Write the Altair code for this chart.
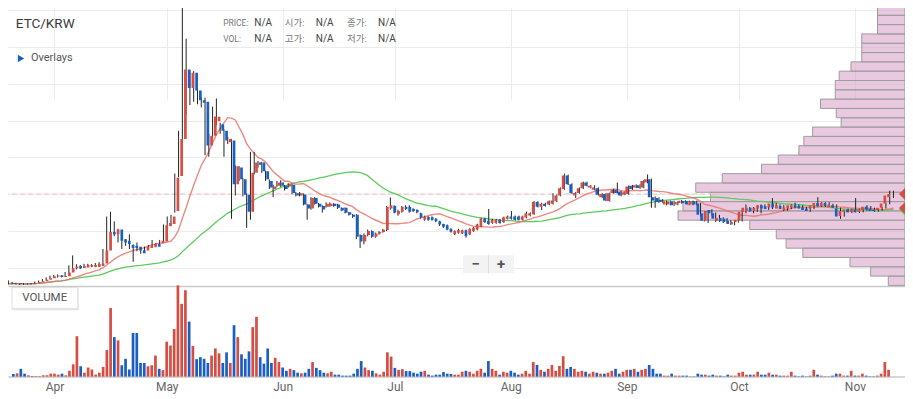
import altair as alt
import pandas as pd

# ---------------- data (prices in thousand KRW) ----------------
dates = pd.date_range("2021-03-21", periods=235, freq="D").strftime("%Y-%m-%d").tolist()

opens = [
    14.8, 14.3, 14.6, 14.2, 14.0, 14.3, 14.1, 14.4, 15.3, 16.0,
    17.0, 18.0, 19.2, 20.0, 18.9, 19.3, 21.9, 24.8, 26.3, 24.9,
    25.5, 25.8, 25.9, 25.9, 26.3, 28.1, 36.8, 49.3, 47.8, 51.1,
    44.5, 43.4, 40.5, 40.0, 39.3, 37.0, 36.8, 38.6, 39.4, 41.2,
    41.8, 43.0, 53.3, 54.8, 63.6, 87.3, 112.5, 159.6, 147.0, 157.4,
    145.4, 138.8, 137.7, 108.1, 114.7, 124.5, 122.4, 118.0, 110.3, 111.4,
    81.8, 93.2, 85.1, 74.6, 63.2, 89.5, 96.5, 96.5, 90.6, 84.0,
    78.5, 80.7, 82.9, 80.7, 80.3, 81.4, 75.7, 74.1, 74.8, 68.0,
    65.4, 72.4, 68.6, 67.1, 66.5, 67.1, 68.6, 68.0, 65.8, 65.8,
    62.7, 61.0, 61.0, 47.4, 43.0, 47.4, 50.0, 46.1, 48.3, 49.4,
    50.7, 65.4, 67.1, 61.4, 63.2, 66.5, 66.5, 64.9, 64.3, 62.1,
    57.7, 59.4, 59.4, 58.3, 56.6, 54.8, 54.0, 51.5, 47.8, 48.8,
    48.3, 50.5, 47.8, 50.0, 51.1, 53.3, 58.3, 57.0, 55.5, 55.5,
    57.7, 56.1, 58.3, 59.9, 59.9, 59.9, 57.7, 59.2, 60.5, 61.4,
    69.7, 66.5, 68.6, 68.0, 68.6, 70.2, 74.1, 78.5, 87.7, 81.8,
    74.1, 75.9, 79.0, 82.9, 79.6, 78.1, 79.0, 73.0, 75.2, 70.4,
    75.9, 78.1, 76.8, 74.8, 75.2, 80.7, 79.6, 81.1, 79.6, 82.9,
    85.1, 73.0, 72.4, 71.3, 68.0, 68.0, 70.2, 68.0, 69.1, 70.4,
    70.2, 68.0, 70.2, 68.7, 62.1, 57.0, 64.3, 62.1, 57.0, 58.8,
    58.3, 57.0, 54.4, 56.2, 57.0, 63.2, 63.6, 65.8, 63.6, 65.4,
    67.6, 66.9, 66.0, 68.7, 65.4, 67.1, 64.3, 65.4, 66.0, 67.6,
    67.1, 66.0, 65.4, 65.4, 67.1, 69.1, 66.9, 69.1, 66.2, 67.6,
    65.4, 60.3, 63.2, 64.7, 63.2, 64.7, 63.2, 64.3, 66.5, 65.4,
    64.7, 64.3, 65.8, 68.7, 73.0]

highs = [
    16.5, 15.4, 15.0, 14.6, 14.8, 14.7, 14.9, 15.8, 16.5, 17.5,
    18.6, 19.8, 20.3, 20.6, 19.8, 22.3, 26.8, 33.5, 27.5, 27.0,
    27.8, 27.8, 27.6, 28.3, 28.9, 37.9, 59.9, 63.1, 56.6, 51.5,
    45.0, 44.5, 47.8, 41.0, 42.3, 37.5, 39.5, 40.6, 43.9, 42.0,
    44.0, 54.5, 59.9, 61.0, 89.0, 118.0, 205.0, 180.5, 159.0, 158.5,
    147.0, 140.5, 140.5, 116.0, 134.4, 139.9, 123.5, 119.0, 114.0, 112.5,
    94.5, 94.0, 86.0, 75.5, 103.7, 103.7, 97.5, 97.0, 91.0, 85.0,
    81.5, 84.0, 84.5, 81.2, 82.5, 82.0, 76.5, 76.5, 75.5, 68.5,
    73.0, 73.0, 69.0, 67.5, 69.5, 69.5, 69.0, 68.5, 66.0, 66.0,
    63.0, 61.5, 61.5, 47.8, 48.5, 51.0, 50.5, 49.0, 50.0, 51.5,
    67.0, 72.8, 67.5, 64.5, 67.0, 67.5, 67.5, 65.5, 64.8, 62.5,
    60.5, 60.0, 60.0, 58.8, 57.0, 55.0, 54.5, 52.0, 50.5, 51.5,
    51.0, 51.0, 52.0, 52.8, 55.0, 59.0, 59.0, 65.0, 58.3, 58.3,
    58.3, 59.8, 60.5, 63.6, 60.5, 60.5, 60.5, 63.2, 62.7, 70.3,
    70.3, 69.2, 69.2, 70.8, 75.7, 74.8, 79.6, 89.0, 88.3, 82.4,
    76.5, 79.6, 83.5, 83.5, 81.2, 81.1, 79.6, 75.7, 75.7, 76.2,
    78.7, 82.9, 77.3, 76.8, 80.9, 81.3, 81.7, 81.7, 84.6, 88.4,
    85.6, 73.5, 72.9, 71.8, 70.7, 70.7, 70.7, 70.2, 71.1, 70.9,
    70.7, 70.7, 70.7, 69.2, 62.6, 64.1, 64.8, 62.6, 61.0, 59.3,
    58.8, 57.5, 56.7, 58.2, 63.7, 68.0, 66.3, 66.3, 67.6, 68.1,
    68.1, 67.4, 72.4, 69.2, 68.1, 67.6, 66.5, 68.1, 69.3, 68.1,
    67.6, 66.5, 65.9, 68.1, 73.0, 69.6, 69.6, 69.6, 68.5, 68.1,
    65.9, 64.1, 65.2, 65.2, 72.4, 65.2, 65.2, 67.6, 67.0, 65.9,
    65.2, 66.3, 69.2, 77.4, 77.4]

lows = [
    13.8, 13.9, 13.7, 13.5, 13.6, 13.6, 13.8, 14.0, 15.0, 15.6,
    16.6, 17.5, 18.8, 18.5, 18.6, 19.0, 20.8, 23.5, 24.0, 24.2,
    25.0, 25.3, 25.5, 25.5, 25.8, 27.5, 35.7, 43.4, 46.5, 42.3,
    37.9, 40.0, 37.9, 29.2, 36.3, 34.6, 35.7, 38.0, 38.8, 39.0,
    41.0, 42.5, 52.4, 54.0, 62.5, 86.5, 101.5, 128.9, 135.5, 137.7,
    136.0, 134.0, 101.5, 100.4, 113.0, 122.0, 116.0, 100.4, 109.0, 58.3,
    74.1, 84.0, 73.5, 52.2, 57.7, 88.5, 93.0, 89.5, 84.0, 78.5,
    73.0, 80.0, 80.0, 77.5, 79.5, 75.0, 73.5, 73.5, 67.5, 57.7,
    64.5, 68.0, 66.0, 62.5, 66.0, 66.5, 66.5, 65.0, 63.5, 62.0,
    60.5, 59.0, 44.5, 38.6, 41.0, 46.5, 45.5, 45.5, 47.5, 49.0,
    50.0, 64.5, 62.0, 60.5, 62.5, 64.5, 62.5, 63.0, 62.0, 58.5,
    57.0, 57.0, 57.0, 56.0, 53.5, 52.2, 50.5, 49.0, 47.3, 48.3,
    48.0, 45.6, 47.3, 49.5, 50.5, 52.8, 55.5, 54.3, 55.0, 55.0,
    55.0, 55.5, 58.0, 57.8, 57.2, 57.2, 57.2, 58.7, 60.0, 61.0,
    66.0, 64.3, 66.6, 67.5, 68.0, 69.7, 73.6, 78.0, 81.2, 75.2,
    72.4, 75.4, 78.5, 80.2, 79.0, 77.6, 74.1, 72.5, 70.3, 70.0,
    75.4, 75.4, 73.6, 74.3, 74.7, 78.0, 79.1, 78.7, 79.1, 82.4,
    65.8, 65.8, 69.2, 69.2, 67.5, 67.5, 67.1, 67.5, 68.6, 68.6,
    67.5, 67.5, 67.5, 59.9, 56.5, 55.5, 60.5, 56.2, 56.2, 55.5,
    55.7, 54.3, 53.9, 55.7, 56.5, 62.1, 63.1, 62.1, 63.1, 62.1,
    64.9, 64.4, 64.9, 65.5, 64.9, 63.6, 63.8, 64.9, 65.5, 65.5,
    64.9, 63.8, 63.1, 64.9, 66.6, 66.4, 66.4, 66.6, 65.7, 65.5,
    58.3, 59.8, 62.7, 62.2, 62.7, 62.2, 62.7, 63.8, 64.2, 63.1,
    63.1, 63.8, 65.3, 68.2, 72.5]

closes = [
    14.3, 14.6, 14.2, 14.0, 14.3, 14.1, 14.4, 15.3, 16.0, 17.0,
    18.0, 19.3, 19.8, 18.9, 19.5, 21.9, 24.8, 26.0, 24.8, 26.3,
    27.0, 27.0, 27.0, 27.6, 28.1, 36.8, 49.3, 47.8, 51.1, 43.4,
    42.3, 41.2, 38.6, 38.6, 36.8, 35.0, 39.0, 40.1, 41.2, 39.4,
    43.4, 54.0, 55.5, 59.9, 86.2, 112.5, 159.6, 147.0, 157.4, 145.4,
    138.8, 137.0, 108.1, 114.7, 127.8, 127.5, 118.0, 111.4, 112.5, 81.8,
    93.9, 85.1, 74.6, 63.2, 89.5, 96.5, 95.0, 90.6, 85.1, 79.6,
    80.3, 82.9, 80.7, 78.5, 81.8, 75.9, 74.1, 75.7, 68.0, 65.4,
    72.4, 68.6, 66.5, 64.7, 68.6, 68.6, 67.1, 65.8, 64.0, 62.5,
    61.0, 59.7, 46.1, 43.0, 47.4, 50.0, 46.1, 48.3, 49.4, 50.9,
    66.5, 67.6, 62.5, 63.6, 66.5, 64.9, 63.2, 63.6, 62.7, 59.2,
    59.9, 57.7, 57.7, 56.6, 54.4, 52.9, 51.1, 49.6, 50.0, 50.8,
    50.5, 46.7, 51.5, 52.2, 54.4, 58.3, 56.1, 54.8, 57.7, 57.7,
    55.5, 59.2, 59.9, 58.3, 57.7, 57.7, 59.9, 62.1, 62.1, 69.7,
    66.5, 68.6, 67.1, 70.2, 70.8, 74.1, 79.0, 87.7, 81.8, 75.7,
    75.9, 79.0, 82.9, 80.7, 80.7, 79.6, 74.6, 75.2, 70.8, 75.7,
    78.1, 75.9, 74.1, 76.3, 80.3, 78.5, 81.1, 79.2, 84.0, 85.1,
    73.0, 70.8, 69.7, 69.7, 70.2, 70.2, 67.6, 69.7, 70.6, 69.1,
    68.0, 70.2, 68.0, 61.0, 57.0, 63.6, 62.1, 58.3, 58.8, 56.6,
    56.2, 54.8, 56.2, 57.7, 63.2, 65.8, 65.8, 63.6, 65.8, 67.6,
    65.4, 64.9, 68.7, 66.0, 67.6, 64.9, 66.0, 67.6, 67.6, 66.0,
    65.4, 64.3, 63.6, 67.6, 69.1, 66.9, 69.1, 67.1, 68.0, 66.0,
    59.9, 63.6, 64.7, 62.7, 64.7, 62.7, 64.7, 66.5, 64.7, 63.6,
    63.6, 65.8, 68.7, 74.1, 75.2]

volumes = [
    8, 10, 24, 9, 4, 2, 2, 2, 4, 4,
    9, 9, 6, 9, 4, 18, 38, 125, 32, 12,
    28, 22, 6, 12, 30, 82, 212, 122, 112, 35,
    55, 22, 135, 135, 42, 42, 32, 35, 65, 24,
    20, 108, 96, 147, 282, 225, 267, 170, 95, 54,
    60, 55, 42, 65, 87, 72, 42, 75, 42, 159,
    122, 69, 55, 78, 153, 185, 60, 40, 87, 42,
    58, 45, 28, 18, 24, 20, 12, 10, 12, 24,
    45, 27, 20, 12, 10, 15, 6, 6, 3, 3,
    3, 9, 24, 48, 28, 20, 18, 10, 6, 15,
    75, 62, 27, 21, 23, 17, 17, 12, 9, 15,
    18, 6, 3, 6, 6, 14, 9, 8, 6, 6,
    15, 18, 15, 9, 18, 24, 12, 48, 24, 18,
    6, 15, 12, 18, 12, 6, 9, 18, 9, 45,
    36, 21, 15, 24, 36, 18, 33, 63, 24, 30,
    24, 15, 18, 15, 9, 15, 12, 9, 9, 12,
    18, 24, 9, 15, 21, 21, 24, 15, 21, 24,
    36, 24, 9, 9, 3, 3, 9, 3, 3, 3,
    3, 1, 1, 9, 6, 6, 3, 6, 3, 3,
    1, 6, 3, 3, 12, 15, 6, 6, 6, 15,
    6, 6, 12, 6, 6, 3, 3, 3, 15, 3,
    1, 3, 1, 3, 21, 6, 3, 1, 1, 3,
    9, 9, 3, 3, 18, 3, 3, 9, 3, 1,
    1, 3, 9, 45, 21]

# volume profile (bottom bin first), 30 equal price bins
profile_volume = [17, 35, 56, 104, 121, 131, 158, 231, 226, 198,
                  213, 186, 146, 129, 108, 103, 94, 65, 70, 86,
                  71, 71, 67, 55, 44, 44, 44, 28, 28, 28]
profile_start = 13.16
profile_step = 6.317

grid_values = [12.5, 25, 50, 75, 100, 125, 150, 175, 200]
month_starts = [4, 5, 6, 7, 8, 9, 10, 11]

# ---------------- frames ----------------
df = pd.DataFrame({"i": list(range(len(dates))), "date": dates, "open": opens,
                   "high": highs, "low": lows, "close": closes, "volume": volumes})
last_i = len(dates) - 1

prof = pd.DataFrame({"vol": profile_volume})
prof["lo"] = [profile_start + profile_step * k for k in range(len(profile_volume))]
prof["hi"] = prof["lo"] + profile_step
prof["base"] = 0

# ---------------- layout ----------------
SX, SY = 897 / 913, 0.97
W, H = 897, round(380 * SY, 1)
PRICE_H = 287 * SY
VOL_TOP = H - 94 * SY

RED = "#d64e43"
BLUE = "#1a5fc4"
FONT = "Roboto, 'Noto Sans CJK KR', sans-serif"

xs = alt.Scale(type="utc", domain=[
    alt.DateTime(year=2021, month=3, date=20, hours=21, minutes=49, utc=True),
    alt.DateTime(year=2021, month=11, date=13, hours=1, minutes=12, utc=True)])
ps = alt.Scale(domain=[12.5, 201.3], range=[PRICE_H, 0], nice=False, zero=False)
vs = alt.Scale(domain=[0, 282], range=[H, VOL_TOP], nice=False)

X = alt.X("date:T", scale=xs, axis=None)
up = alt.condition("datum.close >= datum.open", alt.value(RED), alt.value(BLUE))
base = alt.Chart(df)

profile = alt.Chart(prof).mark_rect(
    fill="#dba5cb", fillOpacity=0.6, stroke="#9c9c9c", strokeWidth=1, clip=True
).encode(
    x=alt.X("vol:Q", scale=alt.Scale(domain=[0, 913], range=[W, 0], nice=False, zero=False), axis=None),
    x2="base:Q",
    y=alt.Y("lo:Q", scale=ps, axis=None),
    y2="hi:Q",
)

price_line = base.transform_filter(f"datum.i == {last_i}").mark_rule(
    color="#f0c4c4", strokeDash=[5, 3], strokeWidth=1
).encode(y=alt.Y("close:Q", scale=ps, axis=None))

ma = base.transform_window(
    ma15="mean(close)", frame=[-14, 0], sort=[alt.SortField("i")]
).transform_window(
    ma50="mean(close)", frame=[-49, 0], sort=[alt.SortField("i")]
)
ma50_line = ma.mark_line(color="#5ccb5c", strokeWidth=1.3, clip=True).encode(
    x=X, y=alt.Y("ma50:Q", scale=ps, axis=None))
ma15_line = ma.mark_line(color="#e8766d", strokeWidth=1.4, opacity=0.85, clip=True).encode(
    x=X, y=alt.Y("ma15:Q", scale=ps, axis=None))

grid_axis = alt.Axis(
    values=grid_values, grid=True, labels=False, ticks=False, domain=False, title=None,
    gridColor=alt.condition("datum.value == 12.5", alt.value("#c9c9c9"), alt.value("#ececec")),
    gridWidth=alt.condition("datum.value == 12.5", alt.value(1.5), alt.value(1)),
)
wicks = base.mark_rule(color="#222222", strokeWidth=1, clip=True).encode(
    x=X, y=alt.Y("low:Q", scale=ps, axis=grid_axis), y2="high:Q")
bodies = base.mark_bar(size=2.7, clip=True).encode(
    x=X, y=alt.Y("open:Q", scale=ps, axis=None), y2="close:Q", color=up)

x_axis = alt.Axis(
    values=[alt.DateTime(year=2021, month=m, date=1, utc=True) for m in month_starts],
    labelExpr="utcFormat(datum.value, '%b')", grid=True, gridColor="#ececec", ticks=False,
    domainColor="#c9c9c9", domainWidth=1.5, labelFont=FONT, labelFontSize=12,
    labelColor="#666666", labelPadding=5, title=None,
)
vol_bars = base.mark_bar(size=2.7).encode(
    x=alt.X("date:T", scale=xs, axis=x_axis),
    y=alt.Y("volume:Q", scale=vs, axis=None),
    color=up,
)

TRI = "M-1,0L1,-2L1,2Z"
mk = ma.transform_filter(f"datum.i == {last_i}")
mk50 = mk.mark_point(shape=TRI, filled=True, size=256, color="#5ccb5c", opacity=1).encode(
    x=alt.value(W + 2), y=alt.Y("ma50:Q", scale=ps, axis=None))
mk15 = mk.mark_point(shape=TRI, filled=True, size=256, color=RED, opacity=1).encode(
    x=alt.value(W + 2), y=alt.Y("ma15:Q", scale=ps, axis=None))
mkc = mk.mark_point(shape=TRI, filled=True, size=256, color=RED, opacity=1).encode(
    x=alt.value(W + 2), y=alt.Y("close:Q", scale=ps, axis=None))

one = pd.DataFrame({"k": [0]})


def label(text, x, y, size=11, color="#555555", weight="normal", align="left"):
    return alt.Chart(one).mark_text(
        font=FONT, fontSize=size, color=color, fontWeight=weight, align=align, baseline="middle"
    ).encode(x=alt.value(x), y=alt.value(y), text=alt.value(text))


def box(x, x2, y, y2, fill, stroke="#ffffff", sw=0):
    return alt.Chart(one).mark_rect(fill=fill, stroke=stroke, strokeWidth=sw).encode(
        x=alt.value(x), x2=alt.value(x2), y=alt.value(y), y2=alt.value(y2))


r1, r2 = 15.7 * SY, 32.3 * SY
annotations = [
    label("ETC/KRW", 8 * SX, 17 * SY, size=13.5, color="#3a3a3a"),
    alt.Chart(one).mark_point(shape="triangle-right", filled=True, size=55, color=BLUE, opacity=1).encode(
        x=alt.value(13.3 * SX), y=alt.value(52 * SY)),
    label("Overlays", 23.3 * SX, 52 * SY, size=11, color="#555555"),
    label("PRICE:", 219 * SX, r1, size=8.5, color="#777777"),
    label("N/A", 250.7 * SX, r1, size=10, color="#444444"),
    label("시가:", 281.7 * SX, r1, size=9.5, color="#777777"),
    label("N/A", 313.3 * SX, r1, size=10, color="#444444"),
    label("종가:", 345 * SX, r1, size=9.5, color="#777777"),
    label("N/A", 376.7 * SX, r1, size=10, color="#444444"),
    label("VOL:", 219 * SX, r2, size=8.5, color="#777777"),
    label("N/A", 250.7 * SX, r2, size=10, color="#444444"),
    label("고가:", 281.7 * SX, r2, size=9.5, color="#777777"),
    label("N/A", 313.3 * SX, r2, size=10, color="#444444"),
    label("저가:", 345 * SX, r2, size=9.5, color="#777777"),
    label("N/A", 376.7 * SX, r2, size=10, color="#444444"),
    box(4.6 * SX, 72 * SX, 289.3 * SY, 311.5 * SY, "#e4e4e4"),
    box(4 * SX, 71 * SX, 288.3 * SY, 310 * SY, "#ffffff", "#dedede", 1),
    label("VOLUME", 37.3 * SX, 298.8 * SY, size=11.5, color="#555555", align="center"),
    box(463 * SX, 515 * SX, 255 * SY, 273.5 * SY, "#f3f3f3"),
    box(488.6 * SX, 489.6 * SX, 255 * SY, 273.5 * SY, "#dddddd"),
    label("−", 476 * SX, 264 * SY, size=15, color="#555555", weight="bold", align="center"),
    label("+", 502 * SX, 264 * SY, size=15, color="#555555", weight="bold", align="center"),
]

chart = alt.layer(
    profile, price_line, ma50_line, ma15_line, wicks, bodies, vol_bars, mk50, mk15, mkc,
    *annotations
).resolve_scale(
    x="independent", y="independent"
).properties(
    width=W, height=H,
    padding={"left": 0, "top": 0, "right": 0, "bottom": 17},
    autosize=alt.AutoSizeParams(type="none"),
    background="#ffffff",
).configure_view(stroke=None)

chart.save("out.html", embed_options={"renderer": "svg", "actions": False})
